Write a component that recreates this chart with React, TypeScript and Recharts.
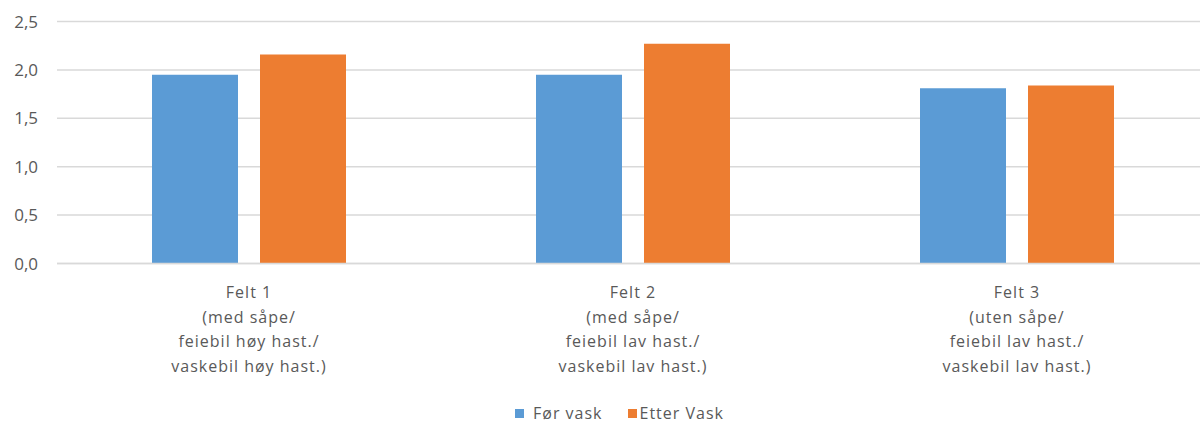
import React from "react";
import { BarChart, Bar, XAxis, YAxis, CartesianGrid, Legend } from "recharts";

const categories = [
  "Felt 1\n(med såpe/\nfeiebil høy hast./\nvaskebil høy hast.)",
  "Felt 2\n(med såpe/\nfeiebil lav hast./\nvaskebil lav hast.)",
  "Felt 3\n(uten såpe/\nfeiebil lav hast./\nvaskebil lav hast.)",
];
const forVask = [1.95, 1.95, 1.81];
const etterVask = [2.16, 2.27, 1.84];
const yTicks = [0, 0.5, 1.0, 1.5, 2.0, 2.5];
const seriesNames = ["Før vask", "Etter Vask"];
const colors = ["#5b9bd5", "#ed7d31"];

const data = categories.map((c, i) => ({ name: c, a: forVask[i], b: etterVask[i] }));

const FONT = "'Open Sans', Lato, sans-serif";

const XTick = (props: any) => {
  const { x, y, payload } = props;
  const lines = String(payload.value).split("\n");
  return (
    <text x={x} y={y} textAnchor="middle" fill="#595959" fontSize={16} letterSpacing={1} fontFamily={FONT}>
      {lines.map((l, i) => (
        <tspan key={i} x={x} y={y + 34.5 + i * 24.5}>
          {l}
        </tspan>
      ))}
    </text>
  );
};

const squareGap = [9, 3];
const itemGap = [25, 0];

const LegendContent = (props: any) => {
  return (
    <div style={{ display: "flex", alignItems: "center", height: 20, fontFamily: FONT, fontSize: 16, letterSpacing: 1, color: "#595959", whiteSpace: "nowrap" }}>
      {seriesNames.map((n, i) => (
        <div key={n} style={{ display: "flex", alignItems: "center", marginRight: itemGap[i] }}>
          <div style={{ width: 9, height: 9, background: colors[i], marginRight: squareGap[i] }} />
          <span style={{ lineHeight: "20px" }}>{n}</span>
        </div>
      ))}
    </div>
  );
};

export default function App() {
  return (
    <div style={{ position: "absolute", top: 0, left: 0, width: 1200, height: 424, overflow: "hidden", background: "#fff" }}>
      <BarChart
        width={1209}
        height={424}
        data={data}
        margin={{ top: 21.5, right: 0, left: 0, bottom: 20.5 }}
        barSize={86}
        barGap={22}
      >
        <CartesianGrid vertical={false} stroke="#d9d9d9" strokeWidth={1.5} />
        <XAxis
          dataKey="name"
          axisLine={{ stroke: "#d9d9d9", strokeWidth: 1.5 }}
          tickLine={false}
          tickSize={0}
          tickMargin={0}
          height={120}
          interval={0}
          tick={<XTick />}
        />
        <YAxis
          width={57}
          domain={[0, 2.5]}
          ticks={yTicks}
          axisLine={false}
          tickLine={false}
          tickSize={0}
          tickMargin={19}
          tickFormatter={(v: number) => v.toFixed(1).replace(".", ",")}
          tick={{ fill: "#595959", fontSize: 17, fontFamily: FONT }}
        />
        <Legend
          content={<LegendContent />}
          wrapperStyle={{ position: "absolute", left: 515, top: 403, bottom: "auto", width: "auto", height: 20 }}
        />
        <Bar dataKey="a" name={seriesNames[0]} fill={colors[0]} isAnimationActive={false} />
        <Bar dataKey="b" name={seriesNames[1]} fill={colors[1]} isAnimationActive={false} />
      </BarChart>
    </div>
  );
}
